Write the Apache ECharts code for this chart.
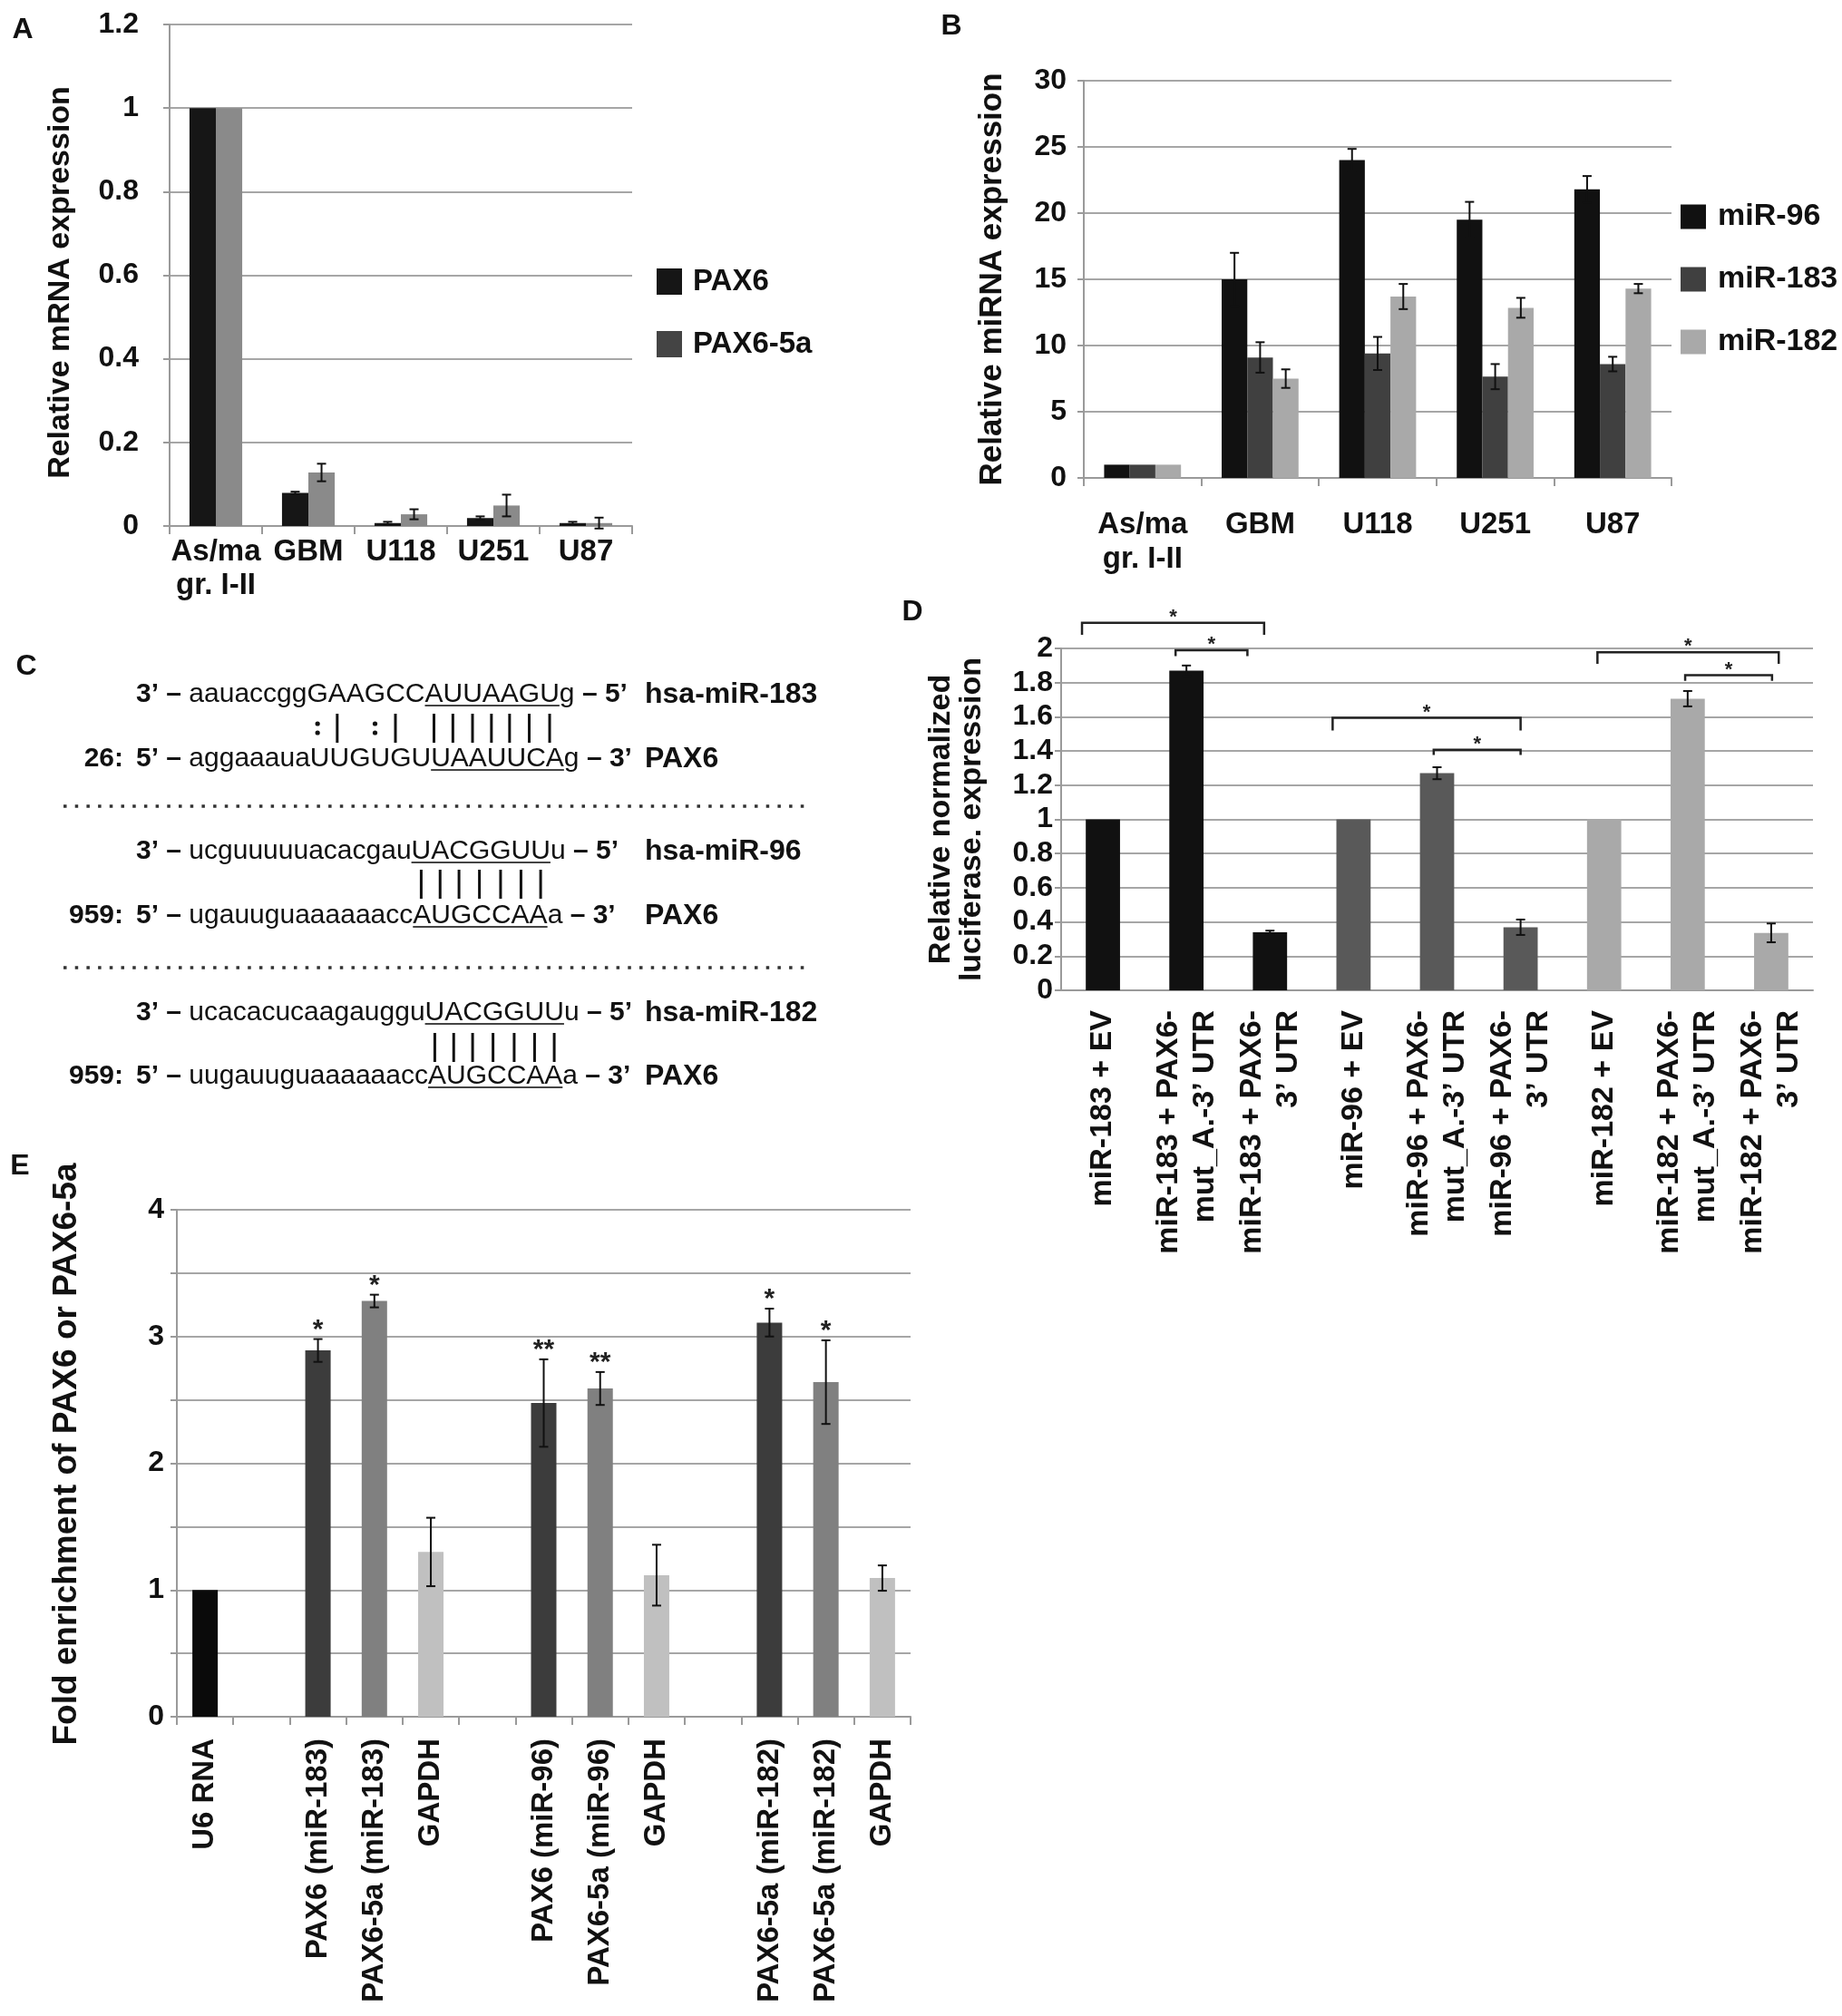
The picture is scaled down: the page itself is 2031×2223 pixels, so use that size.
<!DOCTYPE html>
<html><head><meta charset="utf-8">
<script src="https://cdn.jsdelivr.net/npm/echarts@6/dist/echarts.min.js"></script>
<style>html,body{margin:0;padding:0;background:#fff}#c{width:2031px;height:2223px}</style>
</head><body><div id="c"></div>
<script>
// ---------- Panel A ----------
const aCategories = ['As/ma\ngr. I-II', 'GBM', 'U118', 'U251', 'U87'];
const aPax6 = [1, 0.079, 0.007, 0.019, 0.007];
const aPax6Err = [0, 0.003, 0.003, 0.004, 0.003];
const aPax65a = [1, 0.128, 0.028, 0.049, 0.007];
const aPax65aErr = [0, 0.021, 0.012, 0.026, 0.013];
const aYTicks = [0, 0.2, 0.4, 0.6, 0.8, 1, 1.2];

// ---------- Panel B ----------
const bCategories = ['As/ma\ngr. I-II', 'GBM', 'U118', 'U251', 'U87'];
const bMiR96 = [1, 15.0, 24.0, 19.5, 21.8];
const bMiR96Err = [0, 2.0, 0.85, 1.35, 1.0];
const bMiR183 = [1, 9.1, 9.4, 7.65, 8.6];
const bMiR183Err = [0, 1.15, 1.25, 0.95, 0.55];
const bMiR182 = [1, 7.5, 13.7, 12.85, 14.3];
const bMiR182Err = [0, 0.7, 0.95, 0.75, 0.35];
const bYTicks = [0, 5, 10, 15, 20, 25, 30];

// ---------- Panel D ----------
const dCategories = [
  'miR-183 + EV', 'miR-183 + PAX6-\nmut_A.-3\u2019 UTR', 'miR-183 + PAX6-\n3\u2019 UTR',
  'miR-96 + EV', 'miR-96 + PAX6-\nmut_A.-3\u2019 UTR', 'miR-96 + PAX6-\n3\u2019 UTR',
  'miR-182 + EV', 'miR-182 + PAX6-\nmut_A.-3\u2019 UTR', 'miR-182 + PAX6-\n3\u2019 UTR'
];
const dValues = [1, 1.87, 0.339, 1, 1.27, 0.369, 1, 1.706, 0.336];
const dErr = [0, 0.03, 0.01, 0, 0.035, 0.045, 0, 0.045, 0.055];
const dGroup = [0, 0, 0, 1, 1, 1, 2, 2, 2];
const dYTicks = [0, 0.2, 0.4, 0.6, 0.8, 1, 1.2, 1.4, 1.6, 1.8, 2];
// significance brackets (category-index units, value units)
const dBracketFrom = [-0.25, 0.87, 2.75, 3.96, 5.92, 6.97];
const dBracketTo = [1.93, 1.73, 5.0, 5.0, 8.09, 8.01];
const dBracketY = [2.15, 1.99, 1.594, 1.407, 1.977, 1.843];
const dBracketLeg = [0.07, 0.035, 0.074, 0.03, 0.067, 0.033];
const dBracketMark = ['*', '*', '*', '*', '*', '*'];

// ---------- Panel E ----------
const eCategories = ['U6 RNA', '', 'PAX6 (miR-183)', 'PAX6-5a (miR-183)', 'GAPDH', '',
  'PAX6 (miR-96)', 'PAX6-5a (miR-96)', 'GAPDH', '', 'PAX6-5a (miR-182)', 'PAX6-5a (miR-182)', 'GAPDH'];
const eValues = [1, null, 2.89, 3.28, 1.30, null, 2.475, 2.59, 1.117, null, 3.11, 2.64, 1.094];
const eErr = [0, null, 0.09, 0.05, 0.27, null, 0.345, 0.13, 0.24, null, 0.11, 0.33, 0.1];
const eMarks = ['', '', '*', '*', '', '', '**', '**', '', '', '*', '*', ''];
const eKind = [0, -1, 1, 2, 3, -1, 1, 2, 3, -1, 1, 2, 3];
const eYTicks = [0, 0.5, 1, 1.5, 2, 2.5, 3, 3.5, 4];
const eYTickLabels = ['0', '', '1', '', '2', '', '3', '', '4'];

// ---------- Panel C (sequence alignments) ----------
const cRows = [
  {num: '', prefix: '3\u2019 \u2013 ', pre: 'aauaccggGAAGCC', seed: 'AUUAAGU', post: 'g', suffix: ' \u2013 5\u2019', name: 'hsa-miR-183'},
  {num: '26:', prefix: '5\u2019 \u2013 ', pre: 'aggaaauaUUGUGU', seed: 'UAAUUCA', post: 'g', suffix: ' \u2013 3\u2019', name: 'PAX6'},
  {num: '', prefix: '3\u2019 \u2013 ', pre: 'ucguuuuuacacgau', seed: 'UACGGUU', post: 'u', suffix: ' \u2013 5\u2019', name: 'hsa-miR-96'},
  {num: '959:', prefix: '5\u2019 \u2013 ', pre: 'ugauuguaaaaaacc', seed: 'AUGCCAA', post: 'a', suffix: ' \u2013 3\u2019', name: 'PAX6'},
  {num: '', prefix: '3\u2019 \u2013 ', pre: 'ucacacucaagauggu', seed: 'UACGGUU', post: 'u', suffix: ' \u2013 5\u2019', name: 'hsa-miR-182'},
  {num: '959:', prefix: '5\u2019 \u2013 ', pre: 'uugauuguaaaaaacc', seed: 'AUGCCAA', post: 'a', suffix: ' \u2013 3\u2019', name: 'PAX6'}
];
const cPairs = ['        :| :| |||||||', '               |||||||', '                |||||||'];

// ---------- styles ----------
const FF = '"Liberation Sans", Arial, Helvetica, sans-serif';
const TXT = '#111';
const GRID_COL = '#a6a6a6';
const AXIS_COL = '#9a9a9a';
const colA = ['#161616', '#8a8a8a'];
const colALegend = ['#161616', '#444444'];
const colB = ['#111111', '#404040', '#a9a9a9'];
const colD = ['#111111', '#595959', '#a9a9a9'];
const colE = ['#0a0a0a', '#3c3c3c', '#808080', '#c0c0c0'];

function yAxisCfg(gi, ticks, name, gap, labelMargin, extra, nameExtra) {
  return Object.assign({
    type: 'value', gridIndex: gi, min: ticks[0], max: ticks[ticks.length - 1], interval: ticks[1] - ticks[0],
    axisLine: {show: true, lineStyle: {color: AXIS_COL, width: 2}},
    axisTick: {show: true, length: 7, lineStyle: {color: AXIS_COL, width: 2}},
    splitLine: {show: true, lineStyle: {color: GRID_COL, width: 2}},
    axisLabel: {fontFamily: FF, fontWeight: 'bold', fontSize: 32, color: TXT, margin: labelMargin},
    name: name, nameLocation: 'middle', nameGap: gap,
    nameTextStyle: Object.assign({fontFamily: FF, fontWeight: 'bold', fontSize: 34, color: TXT, lineHeight: 34}, nameExtra || {})
  }, extra || {});
}
function xAxisCfg(gi, cats, label, tick) {
  return {
    type: 'category', gridIndex: gi, data: cats,
    axisLine: {show: true, lineStyle: {color: AXIS_COL, width: 2}},
    axisTick: {show: tick, interval: 0, length: 9, lineStyle: {color: AXIS_COL, width: 2}},
    axisLabel: Object.assign({fontFamily: FF, fontWeight: 'bold', fontSize: 33, color: TXT, interval: 0}, label)
  };
}

function errSeries(gi, values, errs, sIdx, nSer, frac, marks, markFont) {
  return {
    type: 'custom', xAxisIndex: gi, yAxisIndex: gi, z: 10, silent: true, clip: false,
    data: values.map((v, i) => [i, v == null ? 0 : v]),
    encode: {x: 0, y: 1},
    renderItem: function (params, api) {
      const i = params.dataIndex;
      const v = values[i];
      if (v == null) return null;
      const e = errs[i] || 0;
      const base = api.coord([i, v]);
      const band = api.size([1, 0])[0];
      const bw = band * frac;
      const x = base[0] + (sIdx - (nSer - 1) / 2) * bw;
      const ch = [];
      let topY = base[1];
      if (e > 0) {
        const t = api.coord([i, v + e])[1];
        const b = api.coord([i, v - e])[1];
        topY = t;
        const st = {stroke: '#111', lineWidth: 2};
        ch.push({type: 'line', shape: {x1: x, y1: t, x2: x, y2: b}, style: st});
        ch.push({type: 'line', shape: {x1: x - 5, y1: t, x2: x + 5, y2: t}, style: st});
        ch.push({type: 'line', shape: {x1: x - 5, y1: b, x2: x + 5, y2: b}, style: st});
      }
      if (marks && marks[i]) {
        ch.push({type: 'text', style: {text: marks[i], x: x, y: topY + 5, align: 'center', verticalAlign: 'bottom',
          font: markFont, fill: '#222'}});
      }
      return {type: 'group', children: ch};
    }
  };
}

const bracketSeries = {
  type: 'custom', xAxisIndex: 2, yAxisIndex: 2, z: 12, silent: true, clip: false,
  data: dBracketY.map((y, i) => [i, 0]),
  encode: {x: 0, y: 1},
  renderItem: function (params, api) {
    const i = params.dataIndex;
    const p0 = api.coord([0, dBracketY[i]]);
    const p1 = api.coord([1, dBracketY[i]]);
    const step = p1[0] - p0[0];
    const xa = p0[0] + step * dBracketFrom[i];
    const xb = p0[0] + step * dBracketTo[i];
    const y = p0[1];
    const yl = api.coord([0, dBracketY[i] - dBracketLeg[i]])[1];
    return {type: 'group', children: [
      {type: 'polyline', shape: {points: [[xa, yl], [xa, y], [xb, y], [xb, yl]]}, style: {stroke: '#222', lineWidth: 2.5, fill: null}},
      {type: 'text', style: {text: dBracketMark[i], x: (xa + xb) / 2, y: y + 5, align: 'center', verticalAlign: 'bottom',
        font: 'bold 22px ' + FF, fill: '#222'}}
    ]};
  }
};

// ---------- Panel C graphics ----------
function buildPanelC() {
  const els = [];
  const ctx = document.createElement('canvas').getContext('2d');
  const reg = '30px ' + FF, bold = 'bold 30px ' + FF, boldL = 'bold 32px ' + FF;
  const w = (t, f) => { ctx.font = f; return ctx.measureText(t).width; };
  const rowY = [766, 837, 939, 1010, 1117, 1187];
  const pairY = [803, 975, 1155];
  const sepY = [889, 1067];
  const x0 = 150;
  const txt = (t, x, y, f, align) => els.push({type: 'text', x: 0, y: 0, silent: true,
    style: {text: t, x: x, y: y, font: f, fill: TXT, align: align || 'left', textAlign: align || 'left',
      verticalAlign: 'middle', textVerticalAlign: 'middle'}});
  const seqStarts = [];
  cRows.forEach((r, k) => {
    const y = rowY[k];
    if (r.num) txt(r.num, 136, y, bold, 'right');
    let x = x0;
    txt(r.prefix, x, y, bold); x += w(r.prefix, bold);
    seqStarts.push(x);
    txt(r.pre, x, y, reg); x += w(r.pre, reg);
    const sx = x;
    txt(r.seed, x, y, reg); x += w(r.seed, reg);
    els.push({type: 'line', silent: true, shape: {x1: sx, y1: y + 12, x2: x, y2: y + 12}, style: {stroke: '#444', lineWidth: 2}});
    txt(r.post, x, y, reg); x += w(r.post, reg);
    txt(r.suffix, x, y, bold);
    txt(r.name, 711, y, boldL);
  });
  cPairs.forEach((p, k) => {
    const r = cRows[2 * k];
    const full = r.pre + r.seed + r.post;
    const yc = pairY[k];
    for (let j = 0; j < p.length; j++) {
      const c = p[j];
      if (c === ' ') continue;
      const xc = seqStarts[2 * k] + w(full.slice(0, j), reg) + w(full[j], reg) / 2;
      if (c === '|') {
        els.push({type: 'line', silent: true, shape: {x1: xc, y1: yc - 16, x2: xc, y2: yc + 16}, style: {stroke: '#111', lineWidth: 3}});
      } else {
        els.push({type: 'circle', silent: true, shape: {cx: xc, cy: yc - 5, r: 2.6}, style: {fill: '#111'}});
        els.push({type: 'circle', silent: true, shape: {cx: xc, cy: yc + 5, r: 2.6}, style: {fill: '#111'}});
      }
    }
  });
  sepY.forEach(y => els.push({type: 'line', silent: true, shape: {x1: 70, y1: y, x2: 893, y2: y},
    style: {stroke: '#333', lineWidth: 3.5, lineDash: [3.5, 9.2]}}));
  return els;
}

const panelLetters = [['A', 25, 33], ['B', 1049, 29], ['C', 29, 735], ['D', 1006, 675], ['E', 22, 1286]];
const letterEls = panelLetters.map(p => ({type: 'text', silent: true,
  style: {text: p[0], x: p[1], y: p[2], font: 'bold 32px ' + FF, fill: TXT, align: 'center', textAlign: 'center',
    verticalAlign: 'middle', textVerticalAlign: 'middle'}}));

const option = {
  animation: false,
  backgroundColor: '#ffffff',
  grid: [
    {left: 187, top: 27, width: 510, height: 553},
    {left: 1195, top: 89, width: 648, height: 438},
    {left: 1170, top: 715, width: 829, height: 377},
    {left: 195, top: 1334, width: 809, height: 559}
  ],
  xAxis: [
    xAxisCfg(0, aCategories, {margin: 10, lineHeight: 37}, true),
    xAxisCfg(1, bCategories, {margin: 33, lineHeight: 38}, true),
    xAxisCfg(2, dCategories, {margin: 22, rotate: 90, lineHeight: 40, fontSize: 34}, false),
    xAxisCfg(3, eCategories, {margin: 24, rotate: 90, fontSize: 33}, true)
  ],
  yAxis: [
    yAxisCfg(0, aYTicks, 'Relative mRNA expression', 103, 34, null, {padding: [0, 16, 0, 0]}),
    yAxisCfg(1, bYTicks, 'Relative miRNA expression', 83, 19, null, {fontSize: 35, lineHeight: 35}),
    yAxisCfg(2, dYTicks, 'Relative normalized\nluciferase. expression', 81, 9),
    yAxisCfg(3, eYTicks, 'Fold enrichment of PAX6 or PAX6-5a', 103, 14,
      {axisLabel: {fontFamily: FF, fontWeight: 'bold', fontSize: 32, color: TXT, margin: 14,
        formatter: (v, idx) => eYTickLabels[idx]}},
      {fontSize: 37, lineHeight: 37, padding: [0, 0, 0, 20]})
  ],
  legend: [
    {left: 719, top: 289, orient: 'vertical', icon: 'rect', itemWidth: 28, itemHeight: 29, itemGap: 36,
      selectedMode: false,
      textStyle: {fontFamily: FF, fontWeight: 'bold', fontSize: 33, color: TXT, lineHeight: 33, padding: [0, 0, 0, 7]},
      data: [{name: 'PAX6', itemStyle: {color: colALegend[0]}}, {name: 'PAX6-5a', itemStyle: {color: colALegend[1]}}]},
    {left: 1848, top: 217, orient: 'vertical', icon: 'rect', itemWidth: 28, itemHeight: 27, itemGap: 35,
      selectedMode: false,
      textStyle: {fontFamily: FF, fontWeight: 'bold', fontSize: 34, color: TXT, lineHeight: 34, padding: [0, 0, 0, 8]},
      data: ['miR-96', 'miR-183', 'miR-182']}
  ],
  graphic: {elements: buildPanelC().concat(letterEls)},
  series: [
    {name: 'PAX6', type: 'bar', xAxisIndex: 0, yAxisIndex: 0, data: aPax6, barWidth: '28.5%', barGap: '0%', itemStyle: {color: colA[0]}},
    {name: 'PAX6-5a', type: 'bar', xAxisIndex: 0, yAxisIndex: 0, data: aPax65a, barWidth: '28.5%', barGap: '0%', itemStyle: {color: colA[1]}},
    errSeries(0, aPax6, aPax6Err, 0, 2, 0.285),
    errSeries(0, aPax65a, aPax65aErr, 1, 2, 0.285),

    {name: 'miR-96', type: 'bar', xAxisIndex: 1, yAxisIndex: 1, data: bMiR96, barWidth: '21.8%', barGap: '0%', itemStyle: {color: colB[0]}},
    {name: 'miR-183', type: 'bar', xAxisIndex: 1, yAxisIndex: 1, data: bMiR183, barWidth: '21.8%', barGap: '0%', itemStyle: {color: colB[1]}},
    {name: 'miR-182', type: 'bar', xAxisIndex: 1, yAxisIndex: 1, data: bMiR182, barWidth: '21.8%', barGap: '0%', itemStyle: {color: colB[2]}},
    errSeries(1, bMiR96, bMiR96Err, 0, 3, 0.218),
    errSeries(1, bMiR183, bMiR183Err, 1, 3, 0.218),
    errSeries(1, bMiR182, bMiR182Err, 2, 3, 0.218),

    {name: 'luciferase', type: 'bar', xAxisIndex: 2, yAxisIndex: 2, barWidth: '41%',
      data: dValues.map((v, i) => ({value: v, itemStyle: {color: colD[dGroup[i]]}}))},
    errSeries(2, dValues, dErr, 0, 1, 0.41),
    bracketSeries,

    {name: 'enrichment', type: 'bar', xAxisIndex: 3, yAxisIndex: 3, barWidth: '45%',
      data: eValues.map((v, i) => ({value: v, itemStyle: {color: eKind[i] >= 0 ? colE[eKind[i]] : '#000'}}))},
    errSeries(3, eValues, eErr, 0, 1, 0.45, eMarks, 'bold 30px ' + FF)
  ]
};

const chart = echarts.init(document.getElementById('c'), null, {renderer: 'canvas'});
chart.setOption(option);
</script>
</body></html>
